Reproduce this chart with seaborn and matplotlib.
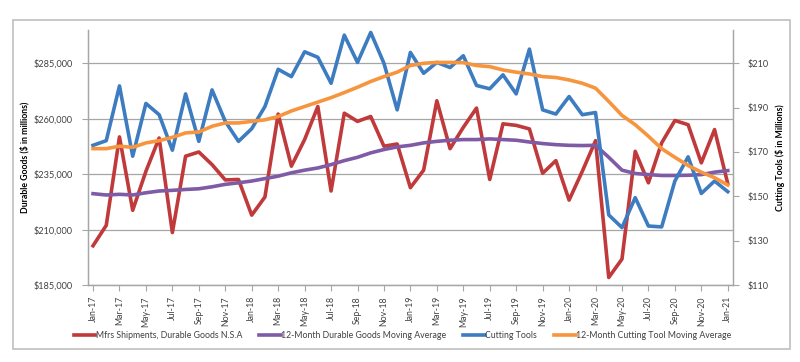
import numpy as np
import pandas as pd
import matplotlib
matplotlib.use("Agg")
import matplotlib.pyplot as plt
import seaborn as sns
from matplotlib.patches import Rectangle
from matplotlib.ticker import FuncFormatter

# monthly labels Jan-17 .. Jan-21
months = ["Jan", "Feb", "Mar", "Apr", "May", "Jun", "Jul", "Aug", "Sep", "Oct", "Nov", "Dec"]
month_labels = [f"{months[i % 12]}-{17 + i // 12}" for i in range(49)]

durable_goods = [202700, 211900, 251800, 218700, 236300, 251300, 208650, 243100, 245000, 239300,
                 232400, 232600, 216500, 224700, 262100, 238600, 250600, 265500, 227400, 262500,
                 258800, 261000, 247600, 248600, 228900, 236800, 268100, 246500, 256100, 264800,
                 232600, 257700, 257000, 255400, 235400, 241100, 223300, 236300, 250100, 188400,
                 196700, 245300, 231100, 249100, 259200, 257300, 240100, 255100, 230700]

durable_ma = [226200, 225600, 225900, 225600, 226600, 227400, 227700, 228100, 228400, 229300,
              230400, 231100, 231900, 233000, 234100, 235600, 236800, 237800, 239300, 241100,
              242600, 244600, 246100, 247300, 248000, 249100, 249800, 250300, 250600, 250600,
              250900, 250600, 250300, 249500, 248800, 248300, 248000, 247900, 248000, 242600,
              236800, 235300, 234800, 234400, 234400, 234500, 234800, 235900, 236600]

cutting_tools = [173.0, 175.1, 199.8, 168.1, 191.9, 186.8, 170.8, 196.2, 174.8, 198.0,
                 183.8, 174.8, 180.5, 190.5, 207.3, 204.0, 215.2, 212.7, 201.0, 222.7,
                 210.4, 223.9, 210.0, 189.0, 214.9, 205.5, 210.4, 208.1, 213.4, 200.0,
                 198.5, 204.8, 196.2, 216.4, 189.0, 187.1, 195.0, 186.8, 187.8, 141.6,
                 135.9, 149.4, 136.6, 136.2, 156.9, 167.8, 151.3, 156.9, 152.1]

cutting_ma = [171.5, 171.5, 172.6, 172.1, 174.1, 175.1, 176.6, 178.6, 179.0, 181.6,
              183.1, 183.1, 183.8, 184.5, 186.0, 188.5, 190.5, 192.5, 194.5, 196.8,
              199.2, 201.8, 204.0, 206.0, 209.0, 210.0, 210.4, 210.4, 210.3, 209.0,
              208.5, 207.0, 206.0, 205.2, 204.0, 203.6, 202.5, 201.0, 198.8, 192.8,
              186.5, 182.3, 177.1, 171.5, 167.6, 163.9, 160.9, 158.4, 155.1]

df = pd.DataFrame({
    "idx": np.arange(len(month_labels)),
    "durable": durable_goods,
    "durable_ma": durable_ma,
    "tools": cutting_tools,
    "tools_ma": cutting_ma,
})

plt.rcParams["font.family"] = ["Lato", "DejaVu Sans"]
grey_txt = "#404040"
grey_line = "#A6A6A6"
fs = 6.3

fig = plt.figure(figsize=(8, 3.62), dpi=100)
ax = fig.add_axes([0.11, 0.2127, 0.806, 0.7043])
ax2 = ax.twinx()

lw = 2.6
sns.lineplot(data=df, x="idx", y="durable", ax=ax, color="#C0393B", linewidth=lw,
             label="Mfrs Shipments, Durable Goods N.S.A", legend=False)
sns.lineplot(data=df, x="idx", y="durable_ma", ax=ax, color="#7F5BA6", linewidth=lw,
             label="12-Month Durable Goods Moving Average", legend=False)
sns.lineplot(data=df, x="idx", y="tools", ax=ax2, color="#3D7CC0", linewidth=lw,
             label="Cutting Tools", legend=False)
sns.lineplot(data=df, x="idx", y="tools_ma", ax=ax2, color="#F7953F", linewidth=lw,
             label="12-Month Cutting Tool Moving Average", legend=False)

ax.set_xlim(-0.38, 48.38)
ax.set_ylim(185000, 300000)
ax2.set_ylim(110, 225)
ax.set_yticks(np.arange(185000, 285001, 25000))
ax2.set_yticks(np.arange(110, 211, 20))
ax.yaxis.set_major_formatter(FuncFormatter(lambda v, p: f"${v:,.0f}"))
ax2.yaxis.set_major_formatter(FuncFormatter(lambda v, p: f"${v:,.0f}"))

ax.set_xticks(df["idx"][::2])
ax.set_xticklabels(month_labels[::2], rotation=90, fontsize=fs, color=grey_txt)
ax.grid(axis="y", color=grey_line, linewidth=0.9)
ax.set_axisbelow(True)

for a in (ax, ax2):
    a.spines["top"].set_visible(False)
    for s in ("left", "right", "bottom"):
        a.spines[s].set_color(grey_line)
        a.spines[s].set_linewidth(0.9)
    a.tick_params(axis="y", labelsize=fs + 0.3, labelcolor=grey_txt, color=grey_line, length=4, pad=7)
    a.set_xlabel("")
ax.tick_params(axis="x", color=grey_line, length=4, pad=4)

ax.set_ylabel("Durable Goods ($ in millions)", fontsize=fs, fontweight="bold")
ax2.set_ylabel("Cutting Tools ($ in Millions)", fontsize=fs, fontweight="bold", rotation=90)
ax.yaxis.set_label_coords(-0.09, 0.5)
ax2.yaxis.set_label_coords(1.065, 0.5)

h1, l1 = ax.get_legend_handles_labels()
h2, l2 = ax2.get_legend_handles_labels()
fig.legend(h1 + h2, l1 + l2, loc="center", bbox_to_anchor=(0.503, 0.072), ncol=4,
           frameon=False, fontsize=fs, handlelength=2.5, handletextpad=0.05,
           columnspacing=1.9, labelcolor=grey_txt)

# chart area border
fig.patches.append(Rectangle((13 / 800, 1 - 349 / 362), 777 / 800, 329 / 362,
                             transform=fig.transFigure, fill=False,
                             edgecolor="#BFBFBF", linewidth=1.2))

fig.savefig("out.png", dpi=100)
